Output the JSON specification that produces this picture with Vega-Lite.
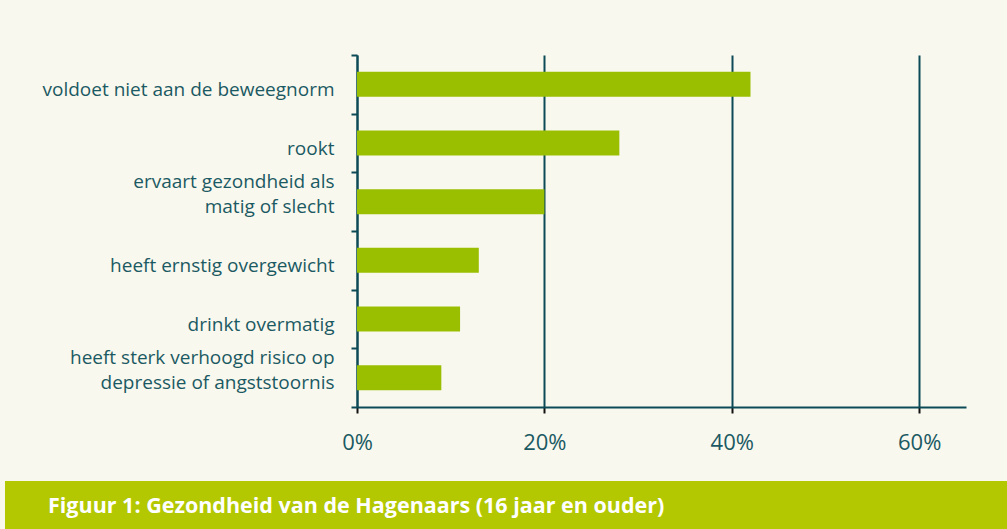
{
  "$schema": "https://vega.github.io/schema/vega-lite/v6.json",
  "background": "#f9f8ee",
  "padding": {"left": 5, "top": 46, "right": 0, "bottom": 0},
  "spacing": 28,
  "config": {
    "view": {"stroke": null},
    "font": "Open Sans"
  },
  "vconcat": [
    {
      "width": 1002,
      "height": 352,
      "data": {
        "values": [
          {"label": "voldoet niet aan de beweegnorm", "value": 42},
          {"label": "rookt", "value": 28},
          {"label": "ervaart gezondheid als|matig of slecht", "value": 20},
          {"label": "heeft ernstig overgewicht", "value": 13},
          {"label": "drinkt overmatig", "value": 11},
          {"label": "heeft sterk verhoogd risico op|depressie of angststoornis", "value": 9}
        ]
      },
      "mark": {"type": "bar", "color": "#99bf00", "size": 25},
      "encoding": {
        "y": {
          "field": "label",
          "type": "nominal",
          "sort": null,
          "scale": {"paddingInner": 0, "paddingOuter": 0},
          "axis": {
            "title": null,
            "offset": -352,
            "labelExpr": "indexof(datum.label, '|') >= 0 ? split(datum.label, '|') : ['', datum.label]",
            "labelFont": "Open Sans",
            "labelFontSize": 19,
            "labelColor": "#1b5a63",
            "labelLineHeight": 25,
            "labelPadding": 17,
            "labelLimit": 400,
            "labelOffset": -20,
            "tickBand": "extent",
            "tickSize": 6,
            "tickWidth": 2,
            "tickColor": "#0c4a57",
            "domainColor": "#0c4a57",
            "domainWidth": 2,
            "grid": false
          }
        },
        "x": {
          "field": "value",
          "type": "quantitative",
          "scale": {"domain": [0, 65], "nice": false, "range": [352, 961]},
          "axis": {
            "title": null,
            "values": [0, 20, 40, 60],
            "labelExpr": "datum.value + '%'",
            "labelFont": "Open Sans",
            "labelFontSize": 22,
            "labelColor": "#1b5a63",
            "labelPadding": 19,
            "labelFlush": false,
            "tickSize": 6,
            "tickWidth": 2,
            "tickColor": "#111111",
            "domainColor": "#0c4a57",
            "domainWidth": 2,
            "grid": true,
            "gridColor": "#0c4a57",
            "gridWidth": 2,
            "gridOpacity": 1
          }
        }
      }
    },
    {
      "width": 1002,
      "height": 48,
      "view": {"fill": "#b3c800", "stroke": null},
      "title": {
        "text": "Figuur 1: Gezondheid van de Hagenaars (16 jaar en ouder)",
        "anchor": "start",
        "frame": "group",
        "orient": "bottom",
        "offset": -22.5,
        "baseline": "middle",
        "dx": 43,
        "color": "#ffffff",
        "font": "Open Sans",
        "fontSize": 21.5,
        "fontWeight": "bold"
      },
      "data": {"values": [{"n": 1}]},
      "mark": {"type": "text"},
      "encoding": {"text": {"value": ""}}
    }
  ]
}
